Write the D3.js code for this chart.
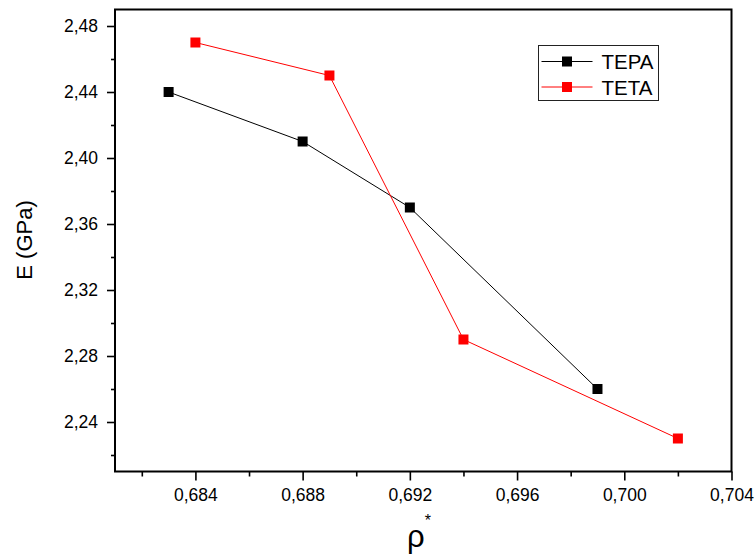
<!DOCTYPE html>
<html lang="en">
  <head>
    <meta charset="utf-8" />
    <title>E vs rho*</title>
    <script src="https://cdn.jsdelivr.net/npm/d3@7"></script>
    <style>
      body { margin: 0; background: #fff; }
      svg text { font-family: "Liberation Sans", Arial, sans-serif; }
    </style>
  </head>
  <body>
    <script>
      /*************************** Data ***************************/

      var seriesNames = ["TEPA", "TETA"];
      var seriesColors = ["#000000", "#ff0000"];
      var tepaX = [0.683, 0.688, 0.692, 0.699];
      var tepaY = [2.44, 2.41, 2.37, 2.26];
      var tetaX = [0.684, 0.689, 0.694, 0.702];
      var tetaY = [2.47, 2.45, 2.29, 2.23];
      var xTicks = [0.684, 0.688, 0.692, 0.696, 0.7, 0.704];
      var yTicks = [2.24, 2.28, 2.32, 2.36, 2.4, 2.44, 2.48];

      /*************************** Canvas ***************************/

      var width = 756, height = 555;
      var plotLeft = 115, plotRight = 731.5, plotTop = 9.5, plotBottom = 471.5;

      var svg = d3.select("body").append("svg")
        .attr("width", width).attr("height", height);

      var x = d3.scaleLinear().domain([0.681, 0.704]).range([plotLeft, plotRight]);
      var y = d3.scaleLinear().domain([2.21, 2.49]).range([plotBottom, plotTop]);

      function fmt(d, n) { return d.toFixed(n).replace(".", ","); }

      // minor ticks every half step
      var xMinor = d3.range(0.682, 0.7041, 0.004);
      var yMinor = d3.range(2.22, 2.481, 0.04);

      /*************************** Axes ***************************/

      var xAxis = svg.append("g").attr("transform", "translate(0," + plotBottom + ")");
      xAxis.call(d3.axisBottom(x).tickValues(xTicks).tickSize(9).tickPadding(8)
        .tickFormat(function (d) { return fmt(d, 3); }));
      xAxis.append("g").call(d3.axisBottom(x).tickValues(xMinor).tickSize(5).tickFormat(""));

      var yAxis = svg.append("g").attr("transform", "translate(" + plotLeft + ",0)");
      yAxis.call(d3.axisLeft(y).tickValues(yTicks).tickSize(8).tickPadding(9)
        .tickFormat(function (d) { return fmt(d, 2); }));
      yAxis.append("g").call(d3.axisLeft(y).tickValues(yMinor).tickSize(4).tickFormat(""));

      svg.selectAll(".domain").remove();
      svg.selectAll(".tick line").attr("stroke", "#000").attr("stroke-width", 1.6);
      svg.selectAll(".tick text").attr("font-size", 17.5).attr("fill", "#000")
        .attr("font-family", "Liberation Sans, Arial, sans-serif");

      // frame
      svg.append("rect")
        .attr("x", plotLeft).attr("y", plotTop)
        .attr("width", plotRight - plotLeft).attr("height", plotBottom - plotTop)
        .attr("fill", "none").attr("stroke", "#000").attr("stroke-width", 2);

      /*************************** Series ***************************/

      var series = [
        { name: seriesNames[0], color: seriesColors[0], xs: tepaX, ys: tepaY },
        { name: seriesNames[1], color: seriesColors[1], xs: tetaX, ys: tetaY }
      ];

      var line_gen = d3.line()
        .x(function (d) { return x(d[0]); })
        .y(function (d) { return y(d[1]); });

      var ms = 10;
      series.forEach(function (s) {
        var pts = s.xs.map(function (v, i) { return [v, s.ys[i]]; });
        svg.append("path").datum(pts)
          .attr("d", line_gen)
          .attr("fill", "none").attr("stroke", s.color).attr("stroke-width", 1);
        svg.selectAll(null).data(pts).enter().append("rect")
          .attr("x", function (d) { return x(d[0]) - ms / 2; })
          .attr("y", function (d) { return y(d[1]) - ms / 2; })
          .attr("width", ms).attr("height", ms)
          .attr("fill", s.color);
      });

      /*************************** Legend ***************************/

      var lg = svg.append("g").attr("transform", "translate(538.5,45.5)");
      lg.append("rect").attr("width", 120).attr("height", 55)
        .attr("fill", "#fff").attr("stroke", "#222").attr("stroke-width", 1);
      series.forEach(function (s, i) {
        var cy = 16 + i * 25.5;
        lg.append("line").attr("x1", 3).attr("x2", 54).attr("y1", cy).attr("y2", cy)
          .attr("stroke", s.color).attr("stroke-width", 1);
        lg.append("rect").attr("x", 28.5 - ms / 2).attr("y", cy - ms / 2)
          .attr("width", ms).attr("height", ms).attr("fill", s.color);
        lg.append("text").attr("x", 63).attr("y", cy + 7.5)
          .attr("font-size", 20.5).text(s.name);
      });

      /*************************** Labels ***************************/

      svg.append("text")
        .attr("transform", "translate(32,240) rotate(-90)")
        .attr("text-anchor", "middle")
        .attr("font-size", 22)
        .text("E (GPa)");

      var xl = svg.append("text")
        .attr("x", 419).attr("y", 547)
        .attr("text-anchor", "middle")
        .attr("font-size", 31);
      xl.append("tspan").text("ρ");
      xl.append("tspan").attr("font-size", 16).attr("dy", -21).text("*");
    </script>
  </body>
</html>
